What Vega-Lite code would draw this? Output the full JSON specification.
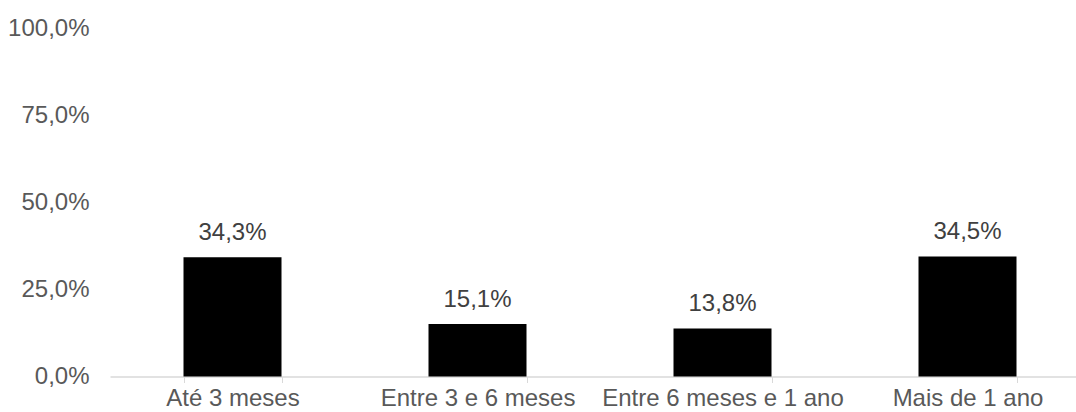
{
  "$schema": "https://vega.github.io/schema/vega-lite/v6.json",
  "autosize": {"type": "none"},
  "padding": {"left": 110, "top": 28.5, "right": 0, "bottom": 35.5},
  "width": 980,
  "height": 348,
  "config": {
    "locale": {"number": {"decimal": ",", "thousands": ".", "grouping": [3], "currency": ["R$", ""]}},
    "view": {"stroke": null},
    "font": "Liberation Sans"
  },
  "data": {
    "values": [
      {"categoria": "Até 3 meses", "valor": 0.343},
      {"categoria": "Entre 3 e 6 meses", "valor": 0.151},
      {"categoria": "Entre 6 meses e 1 ano", "valor": 0.138},
      {"categoria": "Mais de 1 ano", "valor": 0.345}
    ]
  },
  "encoding": {
    "x": {
      "field": "categoria",
      "type": "nominal",
      "sort": null,
      "scale": {"paddingInner": 0.6, "paddingOuter": 0.3},
      "axis": {
        "title": null,
        "labelAngle": 0,
        "labelLimit": 0,
        "labelOverlap": false,
        "labelFont": "Liberation Sans",
        "labelFontSize": 24,
        "labelColor": "#595959",
        "labelBaseline": "alphabetic",
        "labelPadding": 23,
        "tickBand": "extent",
        "tickSize": 6,
        "tickColor": "#d9d9d9",
        "domainColor": "#d9d9d9",
        "domainWidth": 1.5,
        "grid": false
      }
    },
    "y": {
      "field": "valor",
      "type": "quantitative",
      "scale": {"domain": [0, 1], "nice": false},
      "axis": {
        "title": null,
        "values": [0, 0.25, 0.5, 0.75, 1],
        "format": ".1%",
        "labelFont": "Liberation Sans",
        "labelFontSize": 24,
        "labelColor": "#595959",
        "labelPadding": 21,
        "ticks": false,
        "domain": false,
        "grid": false
      }
    }
  },
  "layer": [
    {"mark": {"type": "bar", "color": "#000000"}},
    {
      "mark": {"type": "text", "baseline": "alphabetic", "dy": -17, "font": "Liberation Sans", "fontSize": 24, "color": "#404040"},
      "encoding": {"text": {"field": "valor", "type": "quantitative", "format": ".1%"}}
    }
  ]
}
